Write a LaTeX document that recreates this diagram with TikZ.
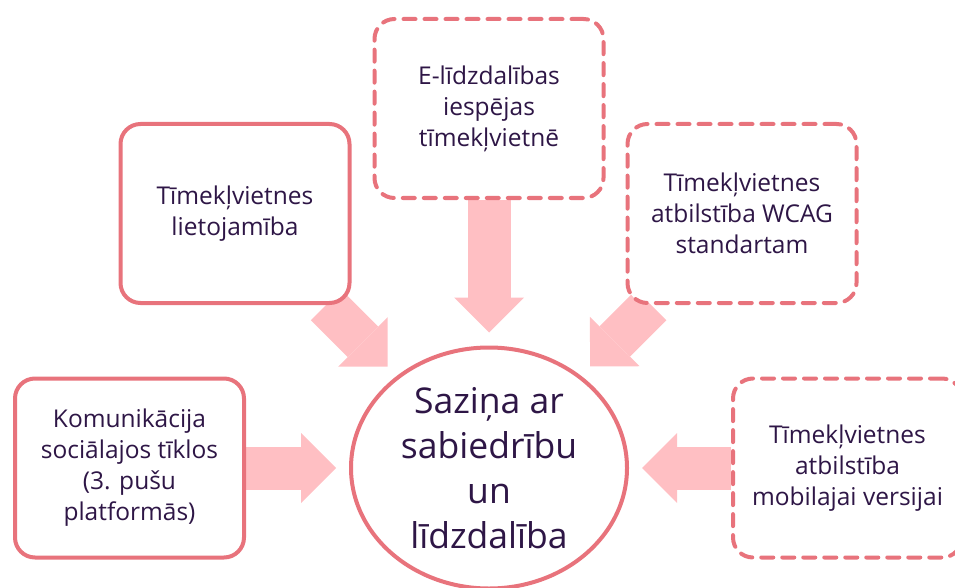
\documentclass[tikz,border=0pt]{standalone}
\usepackage{fontspec}
\setmainfont{Open Sans}
\usetikzlibrary{shapes.geometric,arrows.meta,backgrounds}
\definecolor{rim}{RGB}{232,115,124}
\definecolor{flow}{RGB}{255,191,195}
\definecolor{ink}{RGB}{46,22,70}

\begin{document}
\begin{tikzpicture}[x=1pt, y=-1pt,
	box/.style={draw=rim, line width=4pt, fill=white, rounded corners=20pt,
		minimum width=229pt, minimum height=179pt, align=center, text=ink,
		font=\fontsize{24.5}{31}\selectfont},
	dashbox/.style={box, dash pattern=on 12pt off 9pt, line cap=round},
	flowarrow/.style={draw=flow, line width=43pt, shorten >=13pt,
		-{Triangle[length=35pt, width=70pt, line width=0pt]}}]
	\useasboundingbox (0,0) rectangle (955,588);
	% centre
	\node[ellipse, draw=rim, line width=4pt, fill=white, inner sep=0pt,
		minimum width=276pt, minimum height=241pt, align=center, text=ink,
		font=\fontsize{35.5}{45}\selectfont] (hub) at (489,468)
		{Saziņa ar\\sabiedrību\\un\\līdzdalība};
	% boxes round it
	\node[dashbox] (elid) at (489,108.5) {E-līdzdalības\\iespējas\\tīmekļvietnē};
	\node[box] (usab) at (235,213.5) {Tīmekļvietnes\\lietojamība};
	\node[dashbox] (wcag) at (742,213.5) {Tīmekļvietnes\\atbilstība WCAG\\standartam};
	\node[box] (social) at (129.5,468) {Komunikācija\\sociālajos tīklos\\(3. pušu\\platformās)};
	\node[dashbox] (mobile) at (847.5,468) {Tīmekļvietnes\\atbilstība\\mobilajai versijai};
	% arrows
	\begin{scope}[on background layer]
		\draw[flowarrow] (elid) -- (hub);
		\draw[flowarrow] (usab) -- (hub);
		\draw[flowarrow] (wcag) -- (hub);
		\draw[flowarrow] (social) -- (hub);
		\draw[flowarrow] (mobile) -- (hub);
	\end{scope}
\end{tikzpicture}
\end{document}
